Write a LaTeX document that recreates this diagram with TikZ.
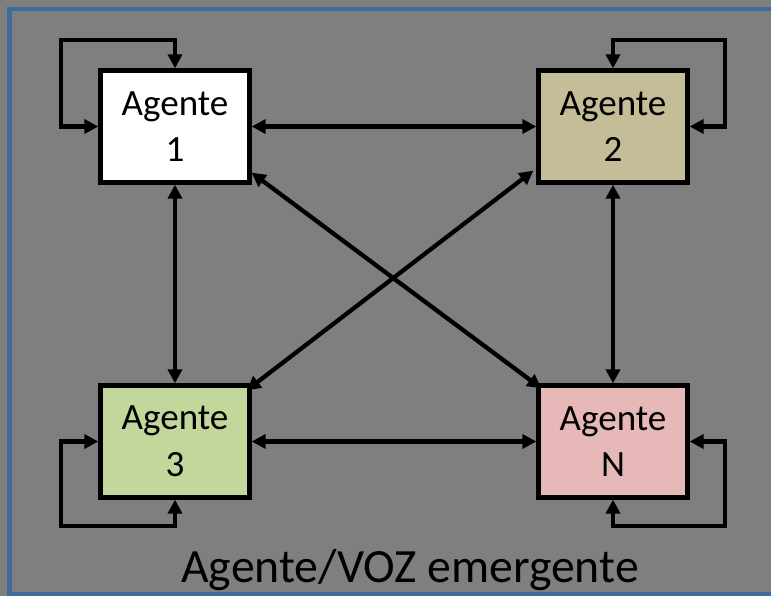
\documentclass[tikz,border=0pt]{standalone}
\usepackage{fontspec}
\setmainfont{Carlito}
\usetikzlibrary{arrows.meta,calc}
\definecolor{bgGray}{HTML}{7F7F7F}
\definecolor{frameBlue}{HTML}{3F6A9E}
\definecolor{tanFill}{HTML}{C4BD97}
\definecolor{greenFill}{HTML}{C3D69B}
\definecolor{pinkFill}{HTML}{E6B9B8}
\tikzset{
  agentbox/.style={draw=black, line width=3.2pt, minimum width=111.75pt,
    minimum height=84pt, inner sep=0pt, align=center,
    font=\fontsize{27.8pt}{35pt}\selectfont},
  link/.style={line width=3.2pt, black,
    {Triangle[length=10.5pt,width=10.5pt]}-{Triangle[length=10.5pt,width=10.5pt]}},
  loop/.style={link, line cap=butt, line join=miter}
}
\begin{document}
\begin{tikzpicture}[x=0.75pt, y=-0.75pt]
  \useasboundingbox (0,0) rectangle (771,596);
  \clip (0,0) rectangle (771,596);
  % background and frame
  \fill[bgGray] (0,0) rectangle (771,596);
  \draw[frameBlue, line width=3.2pt] (9.5,9) rectangle (790,594.5);

  % agents
  \node[agentbox, fill=white]     (a1) at (175,126.5) {Agente\\1};
  \node[agentbox, fill=tanFill]   (a2) at (613,126.5) {Agente\\2};
  \node[agentbox, fill=greenFill] (a3) at (175,441.5) {Agente\\3};
  \node[agentbox, fill=pinkFill]  (aN) at (613,441.5) {Agente\\N};

  % self loops
  \draw[loop] (a1.west) -| (61,40) -| (a1.north);
  \draw[loop] (a2.east) -| (725,40) -| (a2.north);
  \draw[loop] (a3.west) -| (61,526) -| (a3.south);
  \draw[loop] (aN.east) -| (725,526) -| (aN.south);

  % links between agents
  \draw[link] (a1.east) -- (a2.west);
  \draw[link] (a3.east) -- (aN.west);
  \draw[link] (a1.south) -- (a3.north);
  \draw[link] (a2.south) -- (aN.north);
  \draw[link] ($(a1.south east)+(0,-12)$) -- ($(aN.north west)+(5,5)$);
  \draw[link] ($(a2.south west)+(-3,-14)$) -- ($(a3.north east)+(-5,7)$);

  % caption
  \node[anchor=base, inner sep=0pt, font=\fontsize{35.8pt}{42pt}\selectfont,
        text=black] (cap) at (410,582) {Agente/VOZ emergente};
\end{tikzpicture}
\end{document}
